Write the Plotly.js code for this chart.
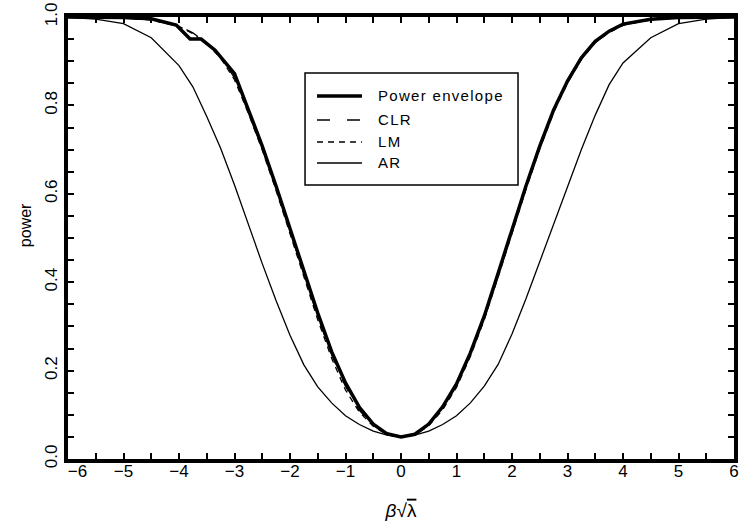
<!DOCTYPE html>
<html>
<head>
<meta charset="utf-8">
<script src="https://cdn.plot.ly/plotly-3.0.1.min.js"></script>
<style>html,body{margin:0;padding:0;background:#fff;}#chart{width:742px;height:523px;}</style>
</head>
<body>
<div id="chart"></div>
<script>
// Power envelope (note the kink near -4 on the left)
var envX = [-6, -5.5, -5, -4.5, -4.05, -3.8, -3.6, -3.35, -3, -2.75, -2.5, -2.25, -2, -1.75, -1.5, -1.25, -1, -0.75, -0.5, -0.25, 0,
            0.25, 0.5, 0.75, 1, 1.25, 1.5, 1.75, 2, 2.25, 2.5, 2.75, 3, 3.25, 3.5, 3.75, 4, 4.5, 5, 5.5, 6];
var envY = [1.0, 1.0, 0.999, 0.996, 0.982, 0.95, 0.95, 0.925, 0.872, 0.79, 0.708, 0.617, 0.52, 0.425, 0.33, 0.243, 0.172, 0.117, 0.079, 0.057, 0.05,
            0.056, 0.079, 0.118, 0.17, 0.24, 0.323, 0.42, 0.52, 0.617, 0.708, 0.79, 0.855, 0.908, 0.945, 0.968, 0.984, 0.995, 0.999, 1.0, 1.0];

// Common grid for CLR, LM and AR
var gridX = [-6, -5.5, -5, -4.5, -4, -3.75, -3.5, -3.25, -3, -2.75, -2.5, -2.25, -2, -1.75, -1.5, -1.25, -1, -0.75, -0.5, -0.25, 0,
             0.25, 0.5, 0.75, 1, 1.25, 1.5, 1.75, 2, 2.25, 2.5, 2.75, 3, 3.25, 3.5, 3.75, 4, 4.5, 5, 5.5, 6];
var clrY = [1.0, 0.999, 0.998, 0.993, 0.98, 0.964, 0.942, 0.91, 0.862, 0.786, 0.703, 0.612, 0.515, 0.417, 0.322, 0.236, 0.164, 0.11, 0.076, 0.056, 0.05,
            0.056, 0.077, 0.114, 0.166, 0.236, 0.318, 0.415, 0.515, 0.612, 0.704, 0.786, 0.852, 0.905, 0.943, 0.966, 0.982, 0.994, 0.999, 1.0, 1.0];
var lmY  = [1.0, 0.999, 0.998, 0.993, 0.979, 0.962, 0.94, 0.907, 0.858, 0.782, 0.699, 0.607, 0.51, 0.41, 0.315, 0.228, 0.156, 0.106, 0.074, 0.055, 0.05,
            0.055, 0.075, 0.111, 0.162, 0.232, 0.315, 0.412, 0.512, 0.609, 0.702, 0.784, 0.851, 0.904, 0.942, 0.965, 0.981, 0.994, 0.999, 1.0, 1.0];
var arY  = [0.999, 0.995, 0.985, 0.953, 0.89, 0.842, 0.775, 0.703, 0.62, 0.53, 0.442, 0.358, 0.28, 0.213, 0.163, 0.127, 0.098, 0.078, 0.063, 0.054, 0.05,
            0.054, 0.063, 0.078, 0.098, 0.127, 0.165, 0.214, 0.283, 0.362, 0.447, 0.532, 0.617, 0.7, 0.778, 0.847, 0.896, 0.953, 0.985, 0.995, 0.999];

var seriesNames = ['Power envelope', 'CLR', 'LM', 'AR'];

var xTickVals = [-6, -5.5, -5, -4.5, -4, -3.5, -3, -2.5, -2, -1.5, -1, -0.5, 0, 0.5, 1, 1.5, 2, 2.5, 3, 3.5, 4, 4.5, 5, 5.5, 6];
var xTickText = ['\u00a0\u00a0\u00a0\u00a0\u22126', '', '\u22125', '', '\u22124', '', '\u22123', '', '\u22122', '', '\u22121', '', '0', '', '1', '', '2', '', '3', '', '4', '', '5', '', '6'];
var yTickVals = [0, 0.05, 0.1, 0.15, 0.2, 0.25, 0.3, 0.35, 0.4, 0.45, 0.5, 0.55, 0.6, 0.65, 0.7, 0.75, 0.8, 0.85, 0.9, 0.95, 1.0];
var yTickText = ['0.0', '', '', '', '0.2', '', '', '', '0.4', '', '', '', '0.6', '', '', '', '0.8', '', '', '', '1.0'];

var lineStyles = [
  {color: '#000', width: 3.5},
  {color: '#000', width: 1.3, dash: '13px,17px'},
  {color: '#000', width: 1.3, dash: '6px,5px'},
  {color: '#000', width: 1.3}
];
var seriesX = [envX, gridX, gridX, gridX];
var seriesY = [envY, clrY, lmY, arY];

var traces = seriesNames.map(function (n, i) {
  return {x: seriesX[i], y: seriesY[i], name: n, type: 'scatter', mode: 'lines',
          line: lineStyles[i], showlegend: false};
});

// Boxed legend drawn in paper coordinates
var legBox = {x0: 0.3559, x1: 0.6757, y0: 0.6199, y1: 0.8733};
var legRowsY = [0.8213, 0.7670, 0.7172, 0.6697];
var legLineX = [0.3739, 0.4414];
var legTextX = 0.4625;

var shapes = [{type: 'rect', xref: 'paper', yref: 'paper', x0: legBox.x0, x1: legBox.x1, y0: legBox.y0, y1: legBox.y1,
               line: {color: '#000', width: 1.5}, fillcolor: '#fff', layer: 'above'}];
var annotations = [];
seriesNames.forEach(function (n, i) {
  shapes.push({type: 'line', xref: 'paper', yref: 'paper', x0: legLineX[0], x1: legLineX[1], y0: legRowsY[i], y1: legRowsY[i],
               line: lineStyles[i], layer: 'above'});
  annotations.push({xref: 'paper', yref: 'paper', x: legTextX, y: legRowsY[i], xanchor: 'left', yanchor: 'middle',
                    showarrow: false, text: '<span style="letter-spacing:1.3px">' + n + '</span>',
                    font: {family: 'Liberation Sans, Arial, sans-serif', size: 15, color: '#000'}});
});
annotations.push({xref: 'paper', yref: 'paper', x: -0.0646, y: 0.529, xanchor: 'center', yanchor: 'middle',
                  showarrow: false, textangle: -90, text: 'power',
                  font: {family: 'Liberation Sans, Arial, sans-serif', size: 16, color: '#000'}});

var axisCommon = {
  showline: true, linecolor: '#000', linewidth: 4, mirror: 'ticks',
  ticks: 'inside', ticklen: 6, tickwidth: 2, tickcolor: '#000',
  showgrid: false, zeroline: false,
  tickfont: {family: 'Liberation Sans, Arial, sans-serif', size: 17, color: '#000'}
};

var layout = {
  width: 742, height: 523,
  margin: {l: 68, r: 8, t: 17, b: 64},
  paper_bgcolor: '#fff', plot_bgcolor: '#fff',
  font: {family: 'Liberation Sans, Arial, sans-serif', color: '#000'},
  showlegend: false,
  shapes: shapes,
  annotations: annotations,
  xaxis: Object.assign({}, axisCommon, {
    range: [-6, 6], tickmode: 'array', tickvals: xTickVals, ticktext: xTickText, ticklabelstandoff: -6,
    title: {text: '<i>\u03b2</i>\u221a<span style="text-decoration:overline">\u03bb</span>', font: {family: 'Liberation Sans, Arial, sans-serif', size: 19, color: '#000'}, standoff: 24}
  }),
  yaxis: Object.assign({}, axisCommon, {
    range: [0, 1], tickmode: 'array', tickvals: yTickVals, ticktext: yTickText, tickangle: -90, ticklabelstandoff: 0
  })
};

Plotly.newPlot('chart', traces, layout, {staticPlot: true, displayModeBar: false});
</script>
</body>
</html>
